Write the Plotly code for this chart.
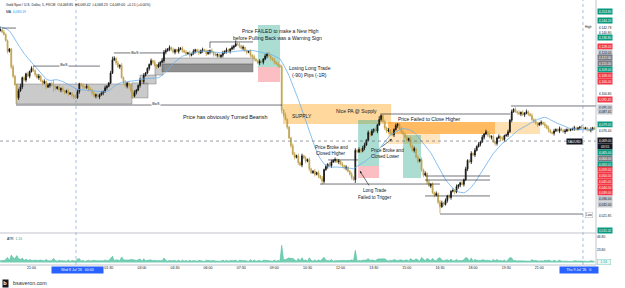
import plotly.graph_objects as go
import pandas as pd
import numpy as np

# ---------------- DATA ----------------
session_bounds = [("2026-07-07 19:35", "2026-07-07 21:55"),
                  ("2026-07-07 23:00", "2026-07-08 21:55"),
                  ("2026-07-08 23:00", "2026-07-09 00:30")]
times = pd.DatetimeIndex(np.concatenate(
    [pd.date_range(a, b, freq="5min").values for a, b in session_bounds]))

first_open = 4140.5
closes = [
    4141.0, 4139.5, 4138.0, 4134.0, 4127.0, 4128.5, 4117.0, 4111.0, 4105.5, 4097.0,
    4101.5, 4104.0, 4110.0, 4108.5, 4112.5, 4111.0, 4114.0, 4116.0, 4114.5, 4112.0,
    4110.0, 4111.0, 4108.0, 4106.5, 4107.5, 4104.0, 4105.0, 4106.0, 4105.0, 4104.5,
    4103.0, 4104.0, 4102.0, 4103.0, 4101.5, 4100.5, 4101.5, 4099.5, 4100.0, 4098.5,
    4097.5, 4097.0, 4101.0, 4106.0, 4105.0, 4104.0, 4103.5, 4104.5, 4102.5, 4102.0,
    4100.0, 4098.0, 4099.0, 4097.5, 4099.0, 4100.0, 4101.0, 4103.5, 4104.5, 4106.5,
    4113.0, 4121.5, 4122.5, 4119.5, 4117.0, 4118.0, 4110.0, 4107.0, 4104.5, 4106.5,
    4105.0, 4101.5, 4098.0, 4100.5, 4102.0, 4105.0, 4108.5, 4107.5, 4111.5, 4113.0,
    4116.0, 4118.5, 4121.0, 4120.0, 4118.0, 4117.0, 4118.5, 4120.0, 4121.0, 4126.5,
    4127.5, 4128.5, 4129.5, 4128.0, 4126.5, 4128.0, 4127.0, 4128.5, 4129.0, 4127.5,
    4126.5, 4125.5, 4126.0, 4124.5, 4125.5, 4127.0, 4128.0, 4127.0, 4126.0, 4127.5,
    4128.0, 4127.5, 4125.5, 4126.5, 4127.5, 4126.5, 4125.0, 4124.5, 4125.0, 4123.5,
    4124.5, 4126.0, 4127.0, 4128.0, 4127.0, 4128.5, 4129.5, 4130.5, 4132.0, 4131.5,
    4130.5, 4129.0, 4129.5, 4127.5, 4126.5, 4127.0, 4124.5, 4123.5, 4122.0, 4121.0,
    4119.5, 4120.5, 4120.0, 4122.0, 4124.0, 4125.5, 4124.0, 4122.5, 4121.5, 4120.0,
    4119.0, 4118.0, 4117.0, 4089.0, 4086.0, 4083.0, 4078.0, 4071.0, 4066.0, 4060.5,
    4058.5, 4059.5, 4055.0, 4053.5, 4059.5, 4058.0, 4056.0, 4057.0, 4051.0, 4048.5,
    4049.5, 4047.5, 4048.5, 4046.5, 4045.0, 4043.0, 4050.5, 4052.5, 4054.0, 4053.0,
    4055.5, 4056.5, 4057.0, 4055.5, 4056.0, 4054.0, 4053.0, 4051.5, 4052.0, 4049.5,
    4047.5, 4045.5, 4044.0, 4063.0, 4062.0, 4063.5, 4062.5, 4064.5, 4066.5, 4069.5,
    4074.5, 4073.0, 4075.5, 4076.5, 4075.5, 4079.5, 4083.0, 4085.5, 4081.5, 4077.5,
    4075.5, 4076.0, 4074.0, 4073.0, 4076.5, 4079.0, 4080.0, 4077.0, 4075.0, 4073.5,
    4071.5, 4069.5, 4070.5, 4066.0, 4063.0, 4064.0, 4058.5, 4056.0, 4057.0, 4050.5,
    4047.0, 4048.0, 4042.5, 4040.0, 4041.0, 4035.5, 4034.0, 4035.0, 4029.5, 4026.5,
    4029.0, 4028.0, 4030.5, 4033.5, 4032.5, 4036.5, 4037.0, 4036.0, 4039.5, 4040.5,
    4042.0, 4041.0, 4044.0, 4051.0, 4056.5, 4055.5, 4061.0, 4060.0, 4063.0, 4065.5,
    4067.0, 4068.5, 4071.5, 4073.5, 4075.0, 4073.0, 4071.5, 4072.0, 4068.5, 4067.5,
    4071.0, 4072.0, 4070.5, 4070.0, 4072.5, 4073.0, 4075.0, 4082.5, 4088.0, 4089.5,
    4088.0, 4087.5, 4086.5, 4087.5, 4086.0, 4087.0, 4088.0, 4086.5, 4085.5, 4083.0,
    4082.0, 4080.5, 4079.5, 4080.5, 4081.0, 4080.0, 4079.0, 4077.5, 4076.0, 4074.5,
    4074.0, 4075.5, 4076.5, 4075.5, 4077.0, 4076.0, 4075.0, 4075.5, 4076.5, 4076.0,
    4076.5, 4077.0, 4077.5, 4076.5, 4077.5, 4078.0, 4077.5, 4077.0, 4077.5, 4076.5,
    4076.0, 4076.5, 4077.5, 4077.0,
]
# closes of the bars just before the visible range (seed for the moving average)
prior_closes = [4144.0, 4145.5, 4143.0, 4142.0, 4144.5, 4146.0, 4145.0, 4143.5, 4142.5, 4141.0,
                4143.0, 4144.0, 4142.5, 4141.5, 4143.0, 4142.0, 4140.5, 4141.5, 4140.5]
# wick lengths per bar, in units of WICK_UNIT dollars
WICK_UNIT = 0.7
wick_up = ("3121111211" "2312121221" "1211212125" "1121211211" "1221121212" "1211121211"
           "2321212121" "1212112121" "1121212122" "2121211212" "1212121121" "2112121211"
           "1212112131" "2121112121" "1211212112" "1212121112" "2121212121" "1212121212"
           "2121212121" "1212121221" "2121213212" "1212121121" "1212121212" "1212121212"
           "2121212121" "1212112121" "2121212121" "1212112121" "2121212112" "1211212121"
           "1211211211" "1121112111" "1211")
wick_dn = ("1111212215" "2121212112" "1212121215" "2112121212" "2112121121" "2121212121"
           "1112121212" "3121212121" "1212121212" "2121121212" "1212112121" "2121212121"
           "1212121211" "2121212121" "1212121212" "1213212121" "2121212121" "1212132121"
           "2121212121" "1213112121" "1212121212" "2121212121" "1212121212" "2121212126"
           "1212121212" "2121212121" "1212121212" "2121212121" "1212121212" "2121212121"
           "1211211211" "1121121112" "1211")

tick_times = ["2026-07-07 21:00", "2026-07-08 01:30", "2026-07-08 03:00", "2026-07-08 04:30",
              "2026-07-08 06:00", "2026-07-08 07:30", "2026-07-08 09:00", "2026-07-08 10:30",
              "2026-07-08 12:00", "2026-07-08 13:30", "2026-07-08 15:00", "2026-07-08 16:30",
              "2026-07-08 18:00", "2026-07-08 19:30", "2026-07-08 21:00"]
tick_text = ["21:00", "01:30", "03:00", "04:30", "06:00", "07:30", "09:00", "10:30",
             "12:00", "13:30", "15:00", "16:30", "18:00", "19:30", "21:00"]

price_label_y = [12, 21, 27, 32, 38, 46, 52, 58, 63, 69, 75, 81, 94, 99, 107, 112, 124, 130,
                 141, 146.5, 152, 158, 164, 169.5, 175.5, 181, 187, 192.5, 198, 204, 215, 230]
price_label_text = ["4,153.80", "4,144.20", "4,142.78", "4,140.80", "4,136.80", "4,128.00",
                    "4,124.00", "4,117.00", "4,115.00", "4,109.00", "4,108.00", "4,106.00",
                    "4,100.80", "4,092.45", "4,091.00", "4,087.41", "4,079.05", "4,076.44",
                    "4,069.00", "03:55", "4,065.00", "4,064.00", "4,063.01", "4,059.00",
                    "4,050.00", "4,045.00", "4,044.00", "4,039.00", "4,036.00", "4,032.00",
                    "4,021.85", "4,011.02"]
price_label_kind = ["g", "g", "n", "n", "g", "r", "l", "d", "d", "g", "r", "r", "n", "r", "l", "l",
                    "g", "n", "k", "k", "g", "d", "g", "r", "r", "r", "r", "r", "l", "l", "n", "g"]

# ---------------- DERIVED ----------------
n = len(closes)
idx = list(range(n))
opens = [first_open] + closes[:-1]
highs = [max(o, c) + int(w) * WICK_UNIT for o, c, w in zip(opens, closes, wick_up)]
lows = [min(o, c) - int(w) * WICK_UNIT for o, c, w in zip(opens, closes, wick_dn)]
ma = pd.Series(prior_closes + closes).rolling(20).mean().values[len(prior_closes):]
prev_c = [first_open] + closes[:-1]
atr = [max(h - l, abs(h - pc), abs(l - pc)) for h, l, pc in zip(highs, lows, prev_c)]
tick_vals = [int(times.get_loc(pd.Timestamp(t))) for t in tick_times]

W, H = 625, 288
XR = [-0.11, 323.8]
def px(x): return x / W
def py(y): return 1 - y / H

FONT = "Liberation Sans, Arial, sans-serif"
TXT = "#131722"

fig = go.Figure()
fig.add_trace(go.Candlestick(
    x=idx, open=opens, high=highs, low=lows, close=closes,
    increasing=dict(line=dict(color="#111111", width=0.8), fillcolor="#111111"),
    decreasing=dict(line=dict(color="#bfa24e", width=0.8), fillcolor="#bfa24e"),
    whiskerwidth=0, xaxis="x", yaxis="y", hoverinfo="skip"))
fig.add_trace(go.Scatter(x=idx, y=ma, mode="lines", line=dict(color="#6ab0ee", width=0.8),
                         xaxis="x", yaxis="y", hoverinfo="skip"))
fig.add_trace(go.Scatter(x=idx, y=atr, mode="lines", fill="tozeroy",
                         line=dict(color="#3fb896", width=0.5),
                         fillcolor="rgba(70,190,155,0.75)", xaxis="x2", yaxis="y2",
                         hoverinfo="skip"))

shapes = []
def zone(k0, k1, p0, p1, fill, line=None, layer="below"):
    shapes.append(dict(type="rect", xref="x", yref="y", x0=k0, x1=k1, y0=p0, y1=p1,
                       fillcolor=fill, layer=layer,
                       line=dict(width=0.5 if line else 0, color=line or "rgba(0,0,0,0)")))
def seg(k0, k1, p0, p1, color=TXT, width=0.6, dash="solid"):
    shapes.append(dict(type="line", xref="x", yref="y", x0=k0, x1=k1, y0=p0, y1=p1,
                       line=dict(color=color, width=width, dash=dash)))

GRAY = "rgba(150,150,150,0.5)"
GLINE = "rgba(110,110,110,0.9)"
zone(8.6, 71.6, 4093.0, 4105.9, GRAY, GLINE)
zone(71.6, 80.3, 4096.9, 4106.6, GRAY, GLINE)
zone(76.0, 84.7, 4105.9, 4111.7, GRAY, GLINE)
zone(84.1, 88.5, 4111.7, 4118.2, GRAY, GLINE)
zone(87.9, 137.4, 4118.8, 4122.7, "rgba(150,150,150,0.45)", GLINE)
zone(87.9, 137.4, 4113.7, 4118.8, "rgba(105,105,105,0.75)", GLINE)
TEAL = "rgba(38,166,140,0.38)"
PINK = "rgba(242,54,69,0.32)"
zone(140.1, 152.1, 4116.9, 4144.1, TEAL)
zone(140.1, 152.1, 4107.2, 4116.9, PINK)
zone(153.7, 212.4, 4080.0, 4093.0, "rgba(255,152,0,0.38)")
zone(194.5, 205.9, 4052.9, 4082.6, TEAL)
zone(194.5, 205.9, 4045.1, 4052.9, PINK)
zone(210.8, 293.4, 4073.6, 4081.3, "rgba(255,152,0,0.3)")
zone(210.8, 268.9, 4073.6, 4081.3, "rgba(255,140,0,0.45)")
zone(210.8, 239.0, 4067.1, 4073.6, "rgba(255,152,0,0.25)")
zone(218.9, 228.7, 4045.1, 4072.9, TEAL)

seg(1.0, 8.6, 4142.1, 4142.1)
seg(17.8, 54.2, 4117.5, 4117.5)
seg(61.8, 88.5, 4126.0, 4126.0)
seg(8.6, 153.2, 4092.3, 4092.3)
seg(114.0, 137.4, 4133.1, 4133.1)
seg(114.0, 114.0, 4133.1, 4129.2)
seg(207.5, 277.1, 4086.5, 4086.5)
seg(178.2, 194.5, 4056.8, 4056.8)
seg(173.8, 239.0, 4041.2, 4041.2)
seg(230.9, 266.2, 4046.4, 4046.4)
seg(230.9, 266.2, 4043.8, 4043.8)
seg(230.9, 266.2, 4033.5, 4033.5)
seg(239.0, 316.7, 4021.8, 4021.8)
seg(277.6, 323.8, 4091.7, 4091.7)
seg(XR[0], XR[1], 4069.0, 4069.0, color="#555a66", width=0.6, dash="dot")

PLOT_R = 596 / W
for k in [41.2, 316.7]:
    shapes.append(dict(type="line", xref="x", yref="paper", x0=k, x1=k, y0=py(265), y1=1,
                       line=dict(color="#6b8fd6", width=0.6, dash="dot")))
shapes.append(dict(type="line", xref="paper", yref="paper", x0=0, x1=PLOT_R, y0=py(233), y1=py(233),
                   line=dict(color="#b2b5be", width=0.8)))
shapes.append(dict(type="line", xref="paper", yref="paper", x0=0, x1=PLOT_R, y0=py(265), y1=py(265),
                   line=dict(color="#b2b5be", width=0.8)))
shapes.append(dict(type="line", xref="paper", yref="paper", x0=PLOT_R, x1=PLOT_R, y0=py(265), y1=1,
                   line=dict(color="#b2b5be", width=0.8)))

ann = []
def note(x, y, text, size=5.0, anchor="center", color=TXT, bg=None, **kw):
    d = dict(xref="paper", yref="paper", x=px(x), y=py(y), text=text, showarrow=False,
             xanchor=anchor, yanchor="middle", font=dict(family=FONT, size=size, color=color))
    if bg:
        d["bgcolor"] = bg
    d.update(kw)
    ann.append(d)

note(4, 4.5, "Gold Spot / U.S. Dollar, 5, FXCM  O4,068.85  H4,069.42  L4,068.23  C4,069.00  +0.15 (+0.00%)",
     size=3.4, anchor="left")
note(4, 12, "MA  <span style='color:#2196f3'>4,083.19</span>", size=3.4, anchor="left")
note(5, 239, "ATR  <span style='color:#26a69a'>1.16</span>", size=3.4, anchor="left")

note(280, 31, "Price FAILED to make a New High")
note(277, 38, "before Pulling Back was a Warning Sign")
note(310, 68, "Losing Long Trade")
note(309, 74.5, "(-90) Pips (-1R)")
note(270, 117, "Price has obviously Turned Bearish", size=5.4, anchor="right")
note(302, 116, "SUPPLY")
note(356, 111, "Nice PA @ Supply")
note(430, 119, "Price Failed to Close Higher")
note(331, 147, "Price Broke and", size=4.6)
note(331, 153, "Closed Higher", size=4.6)
note(387, 150, "Price Broke and", size=4.6)
note(385, 156, "Closed Lower", size=4.6)
note(375, 190, "Long Trade", size=4.6)
note(375, 197, "Failed to Trigger", size=4.6)
note(64, 66, "BoS", size=3.8, bg="white", borderpad=0.3)
note(135, 53, "BoS", size=3.8, bg="white", borderpad=0.3)
note(156, 105, "BoS", size=3.8, bg="white", borderpad=0.3)

for (tx, ty, hx, hy) in [(200.98, 4039.3, 195.5, 4049.6), (206.4, 4064.5, 212.9, 4070.3)]:
    ann.append(dict(xref="x", yref="y", x=hx, y=hy, axref="x", ayref="y", ax=tx, ay=ty, text="",
                    showarrow=True, arrowhead=2, arrowsize=0.7, arrowwidth=0.6, arrowcolor=TXT))

note(588.5, 27, "High", size=3.2)
note(589, 215, "Low", size=3.2, bg="white", bordercolor="#b2b5be", borderwidth=0.5, borderpad=0.4)
note(574, 141.5, "XAUUSD", size=3.2, color="white", bg="#131722", borderpad=0.6)

KIND = {"g": ("#089981", "white"), "r": ("#f23645", "white"), "d": ("#787b86", "white"),
        "l": ("#c9cbd1", TXT), "k": ("#131722", "white"), "n": ("white", TXT)}
for y, t, kd in zip(price_label_y, price_label_text, price_label_kind):
    bg, fg = KIND[kd]
    note(597, y, t, size=3.3, anchor="left", color=fg, bg=bg, borderpad=0.7, width=13, align="center")
note(597, 262, "1.16", size=3.3, anchor="left", color="#26a69a", bg="#eaf6f3",
     bordercolor="#7fd0bb", borderwidth=0.5, borderpad=0.4, width=12, align="center")

note(77, 269.5, "Wed 8 Jul '26   00:00", size=3.5, color="white", bg="#2962ff", borderpad=0.8, width=49)
note(559, 269.5, "Thu 9 Jul '26   0", size=3.5, anchor="left", color="white", bg="#2962ff",
     borderpad=0.8, width=36)
note(5, 283, "<b>b</b>", size=5.5, color="white", bg="#131722", borderpad=0.3)
note(10.5, 283, "bsaveron.com", size=5.4, anchor="left", color="#2a2e39")

fig.update_layout(
    width=W, height=H, margin=dict(l=0, r=0, t=0, b=0),
    paper_bgcolor="white", plot_bgcolor="white", showlegend=False,
    shapes=shapes, annotations=ann,
    xaxis=dict(domain=[0, PLOT_R], range=XR, showticklabels=False, showgrid=False,
               zeroline=False, rangeslider=dict(visible=False), anchor="y", fixedrange=True),
    yaxis=dict(domain=[py(232), 1], range=[4010.18, 4160.24], side="right",
               showticklabels=False, showgrid=False, zeroline=False, anchor="x"),
    xaxis2=dict(domain=[0, PLOT_R], range=XR, anchor="y2", tickvals=tick_vals, ticktext=tick_text,
                tickfont=dict(family=FONT, size=3.6, color=TXT), showgrid=False, zeroline=False,
                ticks="", ticklen=0),
    yaxis2=dict(domain=[py(264), py(233)], range=[-2.88, 54.16], side="right", anchor="x2",
                tickvals=[23.8, 46.8], ticktext=["23.80", "46.80"],
                tickfont=dict(family=FONT, size=3.3, color=TXT), showgrid=False, zeroline=False,
                ticks=""),
)

fig.write_html("out.html")
